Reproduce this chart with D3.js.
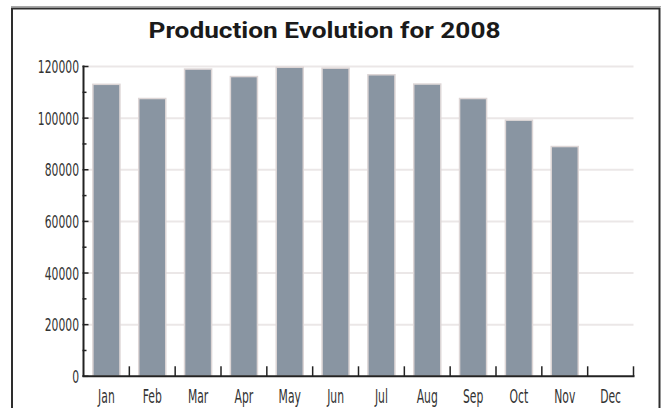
<!DOCTYPE html>
<html>
<head>
<meta charset="utf-8">
<script src="https://cdn.jsdelivr.net/npm/d3@7"></script>
<style>
html,body{margin:0;padding:0;background:#fff;}
svg{display:block;}
</style>
</head>
<body>
<svg id="chart" width="661" height="408"></svg>
<script>
const title = "Production Evolution for 2008";
const months = ["Jan","Feb","Mar","Apr","May","Jun","Jul","Aug","Sep","Oct","Nov","Dec"];
const production = [113100,107600,119000,116100,119700,119350,116800,113200,107600,99200,89000,null];
const yTicks = [0,20000,40000,60000,80000,100000,120000];
const yMinorTicks = [10000,30000,50000,70000,90000,110000];

const svg = d3.select("#chart");
const pLeft = 83.5, pRight = 633.5, pTop = 66.5, pBottom = 376.3;

// frame
svg.append("line").attr("x1",11).attr("x2",661).attr("y1",6.5).attr("y2",6.5)
  .attr("stroke","#a8a8a8").attr("stroke-width",1);
svg.append("rect").attr("x",12).attr("y",8.5).attr("width",647.5).attr("height",450)
  .attr("fill","none").attr("stroke","#2e2e2e").attr("stroke-width",2);

// title
svg.append("text").attr("x",324.5).attr("y",38)
  .attr("text-anchor","middle")
  .attr("font-family","Roboto, 'Open Sans', sans-serif")
  .attr("font-weight","bold").attr("font-size",22)
  .attr("fill","#1a1a1a")
  .attr("textLength",352).attr("lengthAdjust","spacingAndGlyphs")
  .text(title);

const x = d3.scaleBand().domain(months).range([pLeft,pRight]).paddingInner(0.41).paddingOuter(0.205);
const y = d3.scaleLinear().domain([0,120000]).range([pBottom,pTop]);

// gridlines
svg.append("g").selectAll("line").data(yTicks.filter(d=>d>0)).join("line")
  .attr("x1",pLeft).attr("x2",pRight)
  .attr("y1",d=>y(d)).attr("y2",d=>y(d))
  .attr("stroke","#ebe7e7").attr("stroke-width",2);

// bars
const data = months.map((m,i)=>({m, v: production[i]})).filter(d=>d.v!=null);
svg.append("g").selectAll("rect").data(data).join("rect")
  .attr("x",d=>x(d.m)).attr("width",x.bandwidth())
  .attr("y",d=>y(d.v)).attr("height",d=>y(0)-y(d.v))
  .attr("fill","#8995a2")
  .attr("stroke","#ddd6d6").attr("stroke-width",1.5);

const labelFont = "'DejaVu Sans Condensed', 'DejaVu Sans', sans-serif";

// y axis
const yAxis = svg.append("g");
yAxis.append("line").attr("x1",pLeft).attr("x2",pLeft).attr("y1",pTop-1).attr("y2",pBottom)
  .attr("stroke","#222").attr("stroke-width",2);
yAxis.selectAll("line.maj").data(yTicks).join("line").attr("class","maj")
  .attr("x1",pLeft-1).attr("x2",pLeft+5).attr("y1",d=>y(d)).attr("y2",d=>y(d))
  .attr("stroke","#222").attr("stroke-width",1.5);
yAxis.selectAll("line.min").data(yMinorTicks).join("line").attr("class","min")
  .attr("x1",pLeft-1).attr("x2",pLeft+3).attr("y1",d=>y(d)).attr("y2",d=>y(d))
  .attr("stroke","#222").attr("stroke-width",1.5);
yAxis.selectAll("text").data(yTicks).join("text")
  .attr("transform",d=>`translate(79,${y(d)+6.5}) scale(1,1.5)`)
  .attr("text-anchor","end")
  .attr("font-family",labelFont).attr("font-size",12)
  .attr("fill","#333")
  .text(d=>d3.format("d")(d));

// x axis
const xAxis = svg.append("g");
xAxis.append("line").attr("x1",pLeft-1).attr("x2",pRight+1).attr("y1",pBottom).attr("y2",pBottom)
  .attr("stroke","#222").attr("stroke-width",2);
const bounds = months.map(m => x(m) - x.step()*x.paddingInner()/2 + x.step());
xAxis.selectAll("line.t").data(bounds).join("line").attr("class","t")
  .attr("x1",d=>d).attr("x2",d=>d).attr("y1",pBottom).attr("y2",pBottom-10)
  .attr("stroke","#222").attr("stroke-width",1.5);
xAxis.selectAll("text").data(months).join("text")
  .attr("transform",d=>`translate(${x(d)+x.bandwidth()/2},403) scale(1,1.55)`)
  .attr("text-anchor","middle")
  .attr("font-family",labelFont).attr("font-size",12)
  .attr("fill","#333")
  .text(d=>d);
</script>
</body>
</html>
